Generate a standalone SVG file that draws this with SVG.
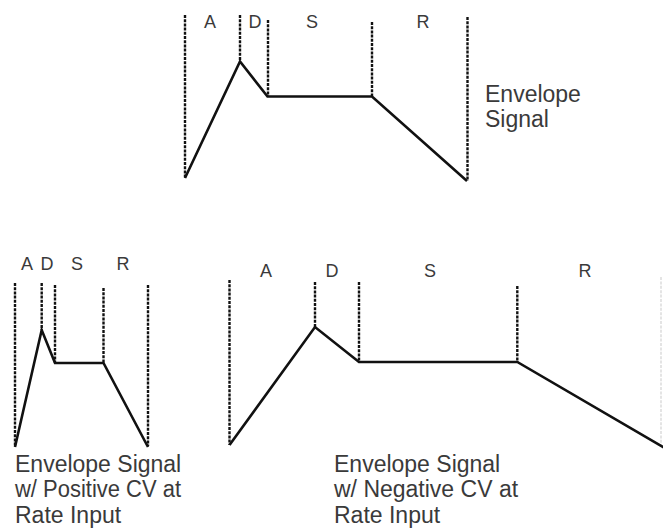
<svg xmlns="http://www.w3.org/2000/svg" width="663" height="529" viewBox="0 0 663 529">
<style>
.bg{fill:#fff}
.dash{stroke:#111;stroke-width:2.4;stroke-dasharray:3 1.2;fill:none}
.faint{stroke:#e4e4e4;stroke-width:2;stroke-dasharray:3 1.4;fill:none}
.env{stroke:#111;stroke-width:2.6;fill:none;stroke-linejoin:miter}
.lbl{font-family:"Liberation Sans",Arial,sans-serif;font-size:18px;fill:#3a3a3a;text-anchor:middle}
.cap{font-family:"Liberation Sans",Arial,sans-serif;font-size:23px;fill:#3a3a3a}
</style>
<rect class="bg" x="0" y="0" width="663" height="529"/>
<g id="env-normal">
<line class="dash" x1="185" y1="15" x2="185" y2="178"/>
<line class="dash" x1="240" y1="15" x2="240" y2="61"/>
<line class="dash" x1="268" y1="20" x2="268" y2="96"/>
<line class="dash" x1="372" y1="22" x2="372" y2="96"/>
<line class="dash" x1="467.5" y1="17" x2="467.5" y2="181"/>
<polyline class="env" points="185,178 240,61.5 267.5,96.5 372,96.5 467,181"/>
<text class="lbl" x="210" y="28">A</text>
<text class="lbl" x="255" y="28">D</text>
<text class="lbl" x="312" y="28">S</text>
<text class="lbl" x="423" y="28">R</text>
<text class="cap" x="485" y="101.7">Envelope</text>
<text class="cap" x="485" y="127">Signal</text>
</g>
<g id="env-positive">
<line class="dash" x1="15" y1="283" x2="15" y2="446"/>
<line class="dash" x1="41.7" y1="283" x2="41.7" y2="330"/>
<line class="dash" x1="55" y1="285" x2="55" y2="363"/>
<line class="dash" x1="103.5" y1="288" x2="103.5" y2="363"/>
<line class="dash" x1="148" y1="285" x2="148" y2="446"/>
<polyline class="env" points="15,447 41.7,330 55,363 103.5,363 148,447"/>
<text class="lbl" x="27" y="270">A</text>
<text class="lbl" x="47" y="270">D</text>
<text class="lbl" x="77" y="270">S</text>
<text class="lbl" x="123" y="270">R</text>
<text class="cap" x="15" y="471.7">Envelope Signal</text>
<text class="cap" x="15" y="497.3" textLength="166" lengthAdjust="spacingAndGlyphs">w/ Positive CV at</text>
<text class="cap" x="15" y="523.3">Rate Input</text>
</g>
<g id="env-negative">
<line class="dash" x1="229.5" y1="280" x2="229.5" y2="445"/>
<line class="dash" x1="315" y1="282" x2="315" y2="327"/>
<line class="dash" x1="359" y1="282" x2="359" y2="362"/>
<line class="dash" x1="517.3" y1="286" x2="517.3" y2="362"/>
<line class="faint" x1="661" y1="277" x2="661" y2="446"/>
<polyline class="env" points="229.5,445 315,327 359,362 517.3,362 664,447.5"/>
<text class="lbl" x="266" y="277">A</text>
<text class="lbl" x="332" y="277">D</text>
<text class="lbl" x="430" y="277">S</text>
<text class="lbl" x="585" y="277">R</text>
<text class="cap" x="334" y="471.7">Envelope Signal</text>
<text class="cap" x="334" y="497.3">w/ Negative CV at</text>
<text class="cap" x="334" y="523.3">Rate Input</text>
</g>
</svg>
